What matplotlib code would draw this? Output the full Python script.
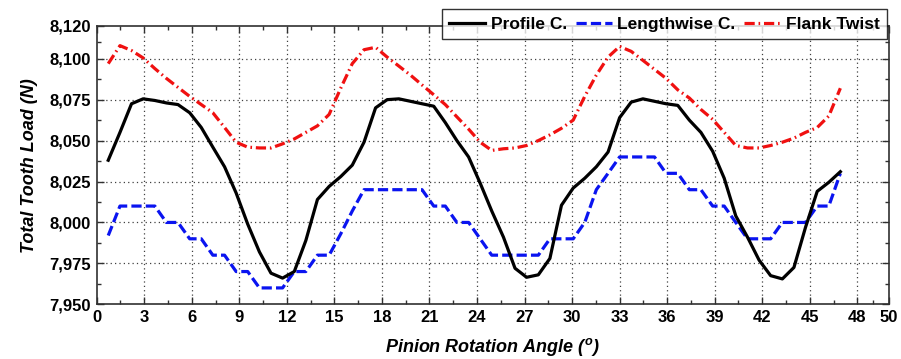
import matplotlib
matplotlib.use("Agg")
import matplotlib.pyplot as plt
from matplotlib.ticker import FuncFormatter, FixedLocator

plt.rcParams['font.family'] = ['Liberation Sans', 'DejaVu Sans']

# Pinion rotation angle (deg)
angle = [0.73, 1.47, 2.20, 2.93, 3.67, 4.40, 5.13, 5.87, 6.60, 7.33,
         8.07, 8.80, 9.53, 10.27, 11.00, 11.73, 12.47, 13.20, 13.93, 14.67,
         15.40, 16.13, 16.87, 17.60, 18.33, 19.07, 19.80, 20.53, 21.27, 22.00,
         22.73, 23.47, 24.20, 24.93, 25.67, 26.40, 27.13, 27.87, 28.60, 29.33,
         30.07, 30.80, 31.53, 32.27, 33.00, 33.73, 34.47, 35.20, 35.93, 36.67,
         37.40, 38.13, 38.87, 39.60, 40.33, 41.07, 41.80, 42.53, 43.27, 44.00,
         44.73, 45.47, 46.20, 46.93]

# Total tooth load (N) for each modification case
profile_c = [8038, 8055, 8072.5, 8075.5, 8074.5, 8073, 8072, 8067, 8058, 8046,
             8034, 8018, 7999, 7982, 7969, 7966, 7970, 7989, 8014, 8022,
             8028, 8035, 8049, 8070, 8075, 8075.5, 8074, 8072.5, 8071, 8061,
             8050, 8040, 8024, 8007, 7991, 7972, 7966.5, 7968, 7978, 8010.5,
             8021, 8027, 8034, 8043, 8064, 8073.5, 8075.5, 8074, 8072.5, 8071.5,
             8062.5, 8055, 8043.5, 8027, 8004, 7991, 7977, 7967.5, 7965.5, 7972.5,
             7997, 8019, 8024.5, 8031]

lengthwise_c = [7992, 8010, 8010, 8010, 8010, 8000, 8000, 7990, 7990, 7980,
                7980, 7970, 7970, 7960, 7960, 7960, 7970, 7970, 7980, 7980,
                7993, 8007, 8020, 8020, 8020, 8020, 8020, 8020, 8010, 8010,
                8000, 8000, 7990, 7980, 7980, 7980, 7980, 7980, 7990, 7990,
                7990, 8000, 8020, 8030, 8040, 8040, 8040, 8040, 8030, 8030,
                8020, 8020, 8010, 8010, 8000, 7990, 7990, 7990, 8000, 8000,
                8000, 8010, 8010, 8030]

flank_twist = [8097, 8108, 8105, 8100.5, 8094, 8088, 8082.5, 8077, 8072, 8067,
               8058, 8049, 8046, 8045.5, 8045.5, 8048, 8051, 8055, 8059, 8066,
               8082, 8097, 8105.5, 8107, 8101, 8095.5, 8090, 8084, 8078, 8072,
               8064.5, 8057, 8049, 8044, 8045, 8045.5, 8047, 8050, 8053.5, 8057.5,
               8062.5, 8077, 8090, 8101, 8107.5, 8104.5, 8099, 8093.5, 8088, 8081,
               8076, 8069, 8063, 8055, 8047, 8045.5, 8045.5, 8047, 8049, 8051.5,
               8055, 8058, 8065, 8082]

x_ticks = [0, 3, 6, 9, 12, 15, 18, 21, 24, 27, 30, 33, 36, 39, 42, 45, 48, 50]
y_ticks = [7950, 7975, 8000, 8025, 8050, 8075, 8100, 8120]

fig = plt.figure(figsize=(9.01, 3.59), dpi=100)
ax = fig.add_axes([0.1073, 0.1524, 0.8794, 0.7752])

lw = 2.3
ax.plot(angle, profile_c, color='black', lw=lw, label='Profile C.', zorder=4)
ax.plot(angle, lengthwise_c, color='#0a14f0', lw=lw,
        linestyle=(0, (3.2, 1.3)), label='Lengthwise C.', zorder=3)
ax.plot(angle, flank_twist, color='#f01010', lw=lw,
        linestyle=(0, (3.2, 1.2, 0.5, 1.2)), label='Flank Twist', zorder=3)

ax.set_xlim(0, 50)
ax.set_ylim(7950, 8120)

ax.xaxis.set_major_locator(FixedLocator(x_ticks))
ax.yaxis.set_major_locator(FixedLocator(y_ticks))
ax.xaxis.set_minor_locator(FixedLocator([1.5 + 3 * i for i in range(16)] + [49]))
ax.yaxis.set_minor_locator(FixedLocator([7962.5 + 25 * i for i in range(6)] + [8110]))
ax.yaxis.set_major_formatter(FuncFormatter(lambda v, p: f'{v:,.0f}'))

ax.tick_params(which='both', direction='in', top=True, right=True,
               color='#303030', width=1.0)
ax.tick_params(which='major', length=5, labelsize=12, pad=4)
ax.tick_params(which='minor', length=3)
for lab in ax.get_xticklabels() + ax.get_yticklabels():
    lab.set_fontweight('bold')

for s in ax.spines.values():
    s.set_color('#303030')
    s.set_linewidth(1.2)

# dotted grid at interior major ticks
for xv in x_ticks[1:-1]:
    ax.axvline(xv, color='#404040', lw=0.9, linestyle=(0, (1, 2.5)), zorder=1)
for yv in y_ticks[1:-1]:
    ax.axhline(yv, color='#404040', lw=0.9, linestyle=(0, (1, 2.5)), zorder=1)

ax.set_xlabel(r'Pinion Rotation Angle ($^{\mathregular{o}}$)', fontsize=13,
              fontweight='bold', style='italic', labelpad=8)
ax.set_ylabel('Total Tooth Load (N)', fontsize=13, fontweight='bold',
              style='italic', labelpad=8)

leg = fig.legend(loc='upper right', bbox_to_anchor=(0.9845, 0.974), ncol=3,
                 frameon=True, fancybox=False, edgecolor='black',
                 prop={'weight': 'bold', 'size': 12.5}, handlelength=2.1,
                 handletextpad=0.3, columnspacing=0.5, borderpad=0.42,
                 borderaxespad=0)
leg.get_frame().set_linewidth(1.0)
leg.set_zorder(10)

fig.savefig('out.png', dpi=100)
